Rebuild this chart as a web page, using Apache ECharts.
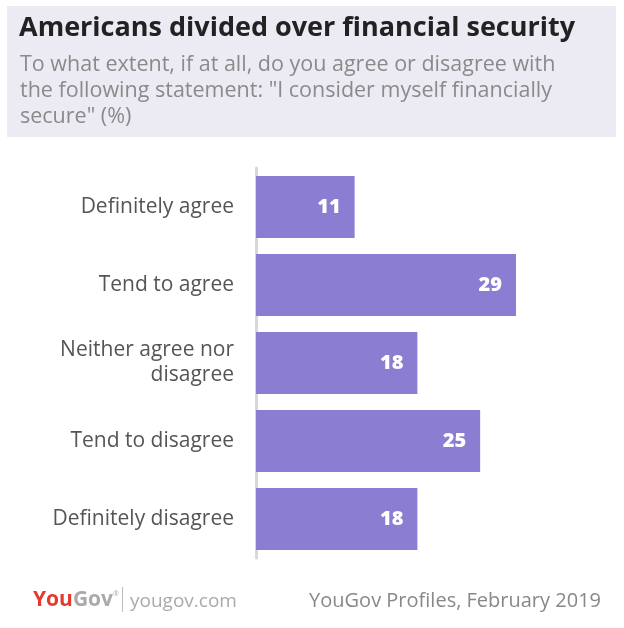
<!DOCTYPE html>
<html><head><meta charset="utf-8">
<script src="https://cdn.jsdelivr.net/npm/echarts@6/dist/echarts.min.js"></script>
<style>html,body{margin:0;padding:0;background:#fff}#c{width:624px;height:628px}</style>
</head><body><div id="c"></div>
<script>
const categories = ["Definitely agree","Tend to agree","Neither agree nor\ndisagree","Tend to disagree","Definitely disagree"];
const values = [11, 29, 18, 25, 18];
const titleText = "Americans divided over financial security";
const subtitleText = "To what extent, if at all, do you agree or disagree with\nthe following statement: \"I consider myself financially\nsecure\" (%)";
const sourceText = "YouGov Profiles, February 2019";

const FONT = "'Open Sans', Lato, sans-serif";
const chart = echarts.init(document.getElementById('c'));
const axisMax = 30;
chart.setOption({
  backgroundColor: '#fff',
  animation: false,
  graphic: [
    {type:'rect', shape:{x:7,y:6,width:609,height:131}, style:{fill:'#ecebf3'}, z:-1},
    {type:'text', left:19, top:15, style:{text:titleText, font:"bold 27px "+FONT, fill:'#222'}},
    {type:'text', left:20, top:52, style:{text:subtitleText, font:"21.5px "+FONT, fill:'#8a8a8a', lineHeight:26}},
    {type:'text', left:33, top:590, style:{text:'{r|You}{g|Gov}{s|®}', rich:{
      r:{font:"bold 21px "+FONT, fill:'#e23b2e'},
      g:{font:"bold 21px "+FONT, fill:'#aaaaaa'},
      s:{font:"7px "+FONT, fill:'#aaaaaa', verticalAlign:'top', padding:[0,0,10,0]}}}},
    {type:'rect', shape:{x:122,y:587,width:1,height:25}, style:{fill:'#bbb'}},
    {type:'text', left:130, top:592, style:{text:'yougov.com', font:"19px "+FONT, fill:'#aaa'}},
    {type:'text', right:23, top:591, style:{text:sourceText, font:"20px "+FONT, fill:'#888'}}
  ],
  grid: {left:256, top:168, width:260*axisMax/29, height:390, containLabel:false},
  xAxis: {type:'value', min:0, max:axisMax, show:false},
  yAxis: {type:'category', data:categories, inverse:true,
    axisLine:{show:true, lineStyle:{color:'#d8d8d8', width:3}}, axisTick:{show:false},
    axisLabel:{color:'#555', fontSize:21, fontFamily:FONT, margin:22, align:'right', lineHeight:25, padding:[5,0,0,0]}},
  series: [{type:'bar', data:values, barCategoryGap:'20.5%',
    itemStyle:{color:'#8b7dd2'},
    label:{show:true, position:'insideRight', distance:14, color:'#fff', fontSize:20, fontWeight:900, fontFamily:FONT}}]
});
</script></body></html>
